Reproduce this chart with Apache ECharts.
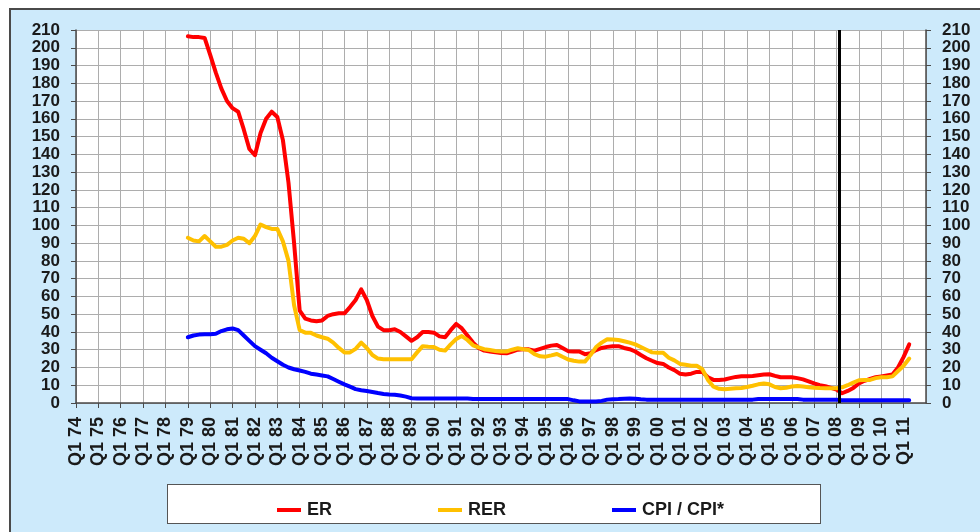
<!DOCTYPE html>
<html>
<head>
<meta charset="utf-8">
<script src="https://cdn.jsdelivr.net/npm/echarts@6/dist/echarts.min.js"></script>
<style>
  html, body { margin: 0; padding: 0; background: #ffffff; }
  #wrap { position: relative; width: 980px; height: 532px; overflow: hidden; background: #ffffff; }
  #frame { position: absolute; left: 9px; top: 8px; width: 1000px; height: 600px; background: #cdeafb; border: 2px solid #4a4a4a; }
  #legendBox { position: absolute; left: 167px; top: 484px; width: 652px; height: 38px; background: #ffffff; border: 1px solid #555; }
  #chart { position: absolute; left: 0; top: 0; width: 980px; height: 532px; }
</style>
</head>
<body>
<div id="wrap">
  <div id="frame"></div>
  <div id="legendBox"></div>
  <div id="chart"></div>
</div>
<script>
// Quarter axis: index 0 = Q1 74, one step per quarter, Q1 labels every 4 quarters
const yearLabels = ['74','75','76','77','78','79','80','81','82','83','84','85','86','87','88','89','90','91','92','93',
  '94','95','96','97','98','99','00','01','02','03','04','05','06','07','08','09','10','11'];
const firstQuarterIndex = 20; // series start at Q1 79
const markerQuarter = 136.5;  // vertical marker line (2008)

const seriesNames = ['ER', 'RER', 'CPI / CPI*'];

const erValues = [
  206.5, 206, 206, 205.5, 196, 186, 177, 170, 166, 164,
  154, 143, 139.5, 152, 160, 164, 161, 148, 124, 90,
  52, 47.5, 46.5, 46, 46.5, 49, 50, 50.5, 50.5, 54,
  58, 64, 58, 49, 43, 41, 41, 41.5, 40, 37.5,
  35, 37, 40, 40, 39.6, 37.5, 37, 41, 44.5, 42,
  38, 34, 31, 29.5, 29, 28.5, 28.2, 28, 29, 30,
  30.2, 30.2, 29.5, 30.5, 31.5, 32.3, 32.7, 31, 29.2, 29,
  29, 27.5, 28, 29.8, 31, 31.6, 32, 32, 31, 30.3,
  29, 27, 25.2, 23.8, 22.5, 22, 20, 18.5, 16.5, 16,
  16.5, 17.5, 17.5, 14.5, 13, 13, 13.2, 14, 14.7, 15,
  15, 15.2, 15.6, 16, 16.2, 15.3, 14.5, 14.5, 14.5, 14,
  13.3, 12.2, 11, 10, 9.5, 8.5, 7.5, 5.5, 6.8, 8.5,
  11, 12.5, 13.5, 14.5, 15, 15.5, 16, 20, 26, 33
];

const rerValues = [
  93, 91.5, 91, 94, 91, 88, 88, 89, 91.5, 93,
  92.5, 90, 94, 100.5, 99, 98, 98, 91, 80, 55,
  41, 39.6, 39.5, 38, 37, 36.2, 34, 31, 28.5, 28.5,
  30.5, 34, 31, 27, 25, 24.6, 24.6, 24.6, 24.6, 24.6,
  24.6, 28.5, 32, 31.7, 31.5, 30, 29.5, 33, 36, 37.7,
  35.5, 32.5, 31.3, 30.3, 29.8, 29.3, 29, 29, 30, 30.8,
  30.3, 29.8, 27.5, 26.3, 26.1, 26.8, 27.6, 26, 24.5, 23.8,
  23.3, 23.3, 27, 31.5, 34, 35.9, 35.8, 35.5, 34.8, 34,
  33, 31.5, 30, 28.5, 28.3, 28.3, 25.5, 24, 22, 21.5,
  21, 21, 19, 13, 9.2, 8, 7.7, 8, 8.3, 8.5,
  9, 9.7, 10.5, 11, 10.5, 9, 8.3, 8.6, 9.3, 9.6,
  9.3, 8.9, 8.6, 8.4, 8.3, 8.3, 8.3, 8.8, 10, 11.5,
  12.8, 13, 13, 14, 14.5, 14.5, 15, 18, 21, 25
];

const cpiValues = [
  37, 38, 38.5, 38.7, 38.7, 39, 40.5, 41.5, 42, 41,
  38, 35, 32, 30, 28, 25.5, 23.5, 21.5, 20, 19,
  18.3, 17.5, 16.5, 16, 15.5, 15, 13.5, 12, 10.5, 9.2,
  7.8, 7.2, 6.8, 6.2, 5.6, 5.1, 4.8, 4.6, 4.2, 3.6,
  2.7, 2.5, 2.5, 2.5, 2.5, 2.5, 2.5, 2.5, 2.5, 2.5,
  2.5, 2.2, 2.2, 2.2, 2.2, 2.2, 2.2, 2.2, 2.2, 2.2,
  2.2, 2.2, 2.2, 2.2, 2.2, 2.2, 2.2, 2.2, 2.2, 1.5,
  0.9, 0.8, 0.8, 0.9, 1.2, 1.9, 2.1, 2.2, 2.4, 2.5,
  2.4, 2.1, 1.9, 1.9, 1.9, 1.9, 1.9, 1.9, 1.9, 1.9,
  1.9, 1.9, 1.9, 1.9, 1.9, 1.9, 1.9, 1.9, 1.9, 1.9,
  1.9, 1.9, 2.2, 2.2, 2.2, 2.2, 2.2, 2.2, 2.2, 2.2,
  1.9, 1.9, 1.9, 1.9, 1.9, 1.9, 1.9, 1.6, 1.6, 1.6,
  1.6, 1.6, 1.6, 1.6, 1.6, 1.6, 1.6, 1.6, 1.6, 1.6
];

const yTickValues = { min: 0, max: 210, step: 10 };

function toPairs(values) {
  return values.map((v, k) => [firstQuarterIndex + k, v]);
}

const FONT = "Arial, 'Liberation Sans', sans-serif";
const gridColor = '#adadad';
const axisColor = '#4a4a4a';
const totalQuarters = yearLabels.length * 4; // 152 -> right edge at Q1 12

const yAxisCommon = {
  type: 'value',
  min: yTickValues.min,
  max: yTickValues.max,
  interval: yTickValues.step,
  axisLine: { show: true, lineStyle: { color: axisColor, width: 1.5 } },
  axisTick: { show: true, length: 5, lineStyle: { color: axisColor } },
  axisLabel: {
    fontFamily: FONT, fontWeight: 'bold', fontSize: 17, color: '#1a1a1a', margin: 16,
    showMinLabel: true, showMaxLabel: true, hideOverlap: false
  }
};

const chart = echarts.init(document.getElementById('chart'), null, { renderer: 'canvas' });
chart.setOption({
  animation: false,
  backgroundColor: 'transparent',
  grid: { left: 76, right: 54, top: 30, bottom: 129, show: true, backgroundColor: '#ffffff', borderWidth: 0 },
  xAxis: {
    type: 'value',
    min: 0,
    max: totalQuarters,
    interval: 4,
    axisLine: { show: true, onZero: false, lineStyle: { color: axisColor, width: 1.5 } },
    axisTick: { show: true, length: 5, lineStyle: { color: axisColor } },
    splitLine: { show: true, lineStyle: { color: gridColor, width: 1 } },
    axisLabel: {
      rotate: 90,
      margin: 14,
      fontFamily: FONT, fontWeight: 'bold', fontSize: 18, color: '#1a1a1a',
      showMinLabel: true,
      showMaxLabel: false,
      hideOverlap: false,
      formatter: function (v) {
        const k = Math.round(v / 4);
        return (k < yearLabels.length) ? 'Q1 ' + yearLabels[k] : '';
      }
    }
  },
  yAxis: [
    Object.assign({}, yAxisCommon, {
      position: 'left',
      splitLine: { show: true, lineStyle: { color: gridColor, width: 1 } }
    }),
    Object.assign({}, yAxisCommon, {
      position: 'right',
      splitLine: { show: false }
    })
  ],
  legend: {
    data: seriesNames,
    left: 272,
    top: 496,
    itemGap: 106,
    itemWidth: 24,
    itemHeight: 4,
    icon: 'rect',
    itemStyle: { borderWidth: 0 },
    textStyle: { fontFamily: FONT, fontWeight: 'bold', fontSize: 18, color: '#1a1a1a', padding: [0, 0, 0, 1] }
  },
  series: [
    {
      name: seriesNames[0], type: 'line', data: toPairs(erValues),
      showSymbol: false, symbol: 'none', z: 2,
      lineStyle: { color: '#ff0000', width: 4, join: 'round', cap: 'round' },
      itemStyle: { color: '#ff0000' }
    },
    {
      name: seriesNames[1], type: 'line', data: toPairs(rerValues),
      showSymbol: false, symbol: 'none', z: 3,
      lineStyle: { color: '#ffc000', width: 4, join: 'round', cap: 'round' },
      itemStyle: { color: '#ffc000' }
    },
    {
      name: seriesNames[2], type: 'line', data: toPairs(cpiValues),
      showSymbol: false, symbol: 'none', z: 4,
      lineStyle: { color: '#0000ff', width: 4, join: 'round', cap: 'round' },
      itemStyle: { color: '#0000ff' }
    },
    {
      name: 'marker', type: 'line', data: [], z: 10,
      markLine: {
        silent: true,
        symbol: ['none', 'none'],
        label: { show: false },
        lineStyle: { color: '#000000', width: 3, type: 'solid' },
        data: [{ xAxis: markerQuarter }]
      }
    }
  ]
});
</script>
</body>
</html>
